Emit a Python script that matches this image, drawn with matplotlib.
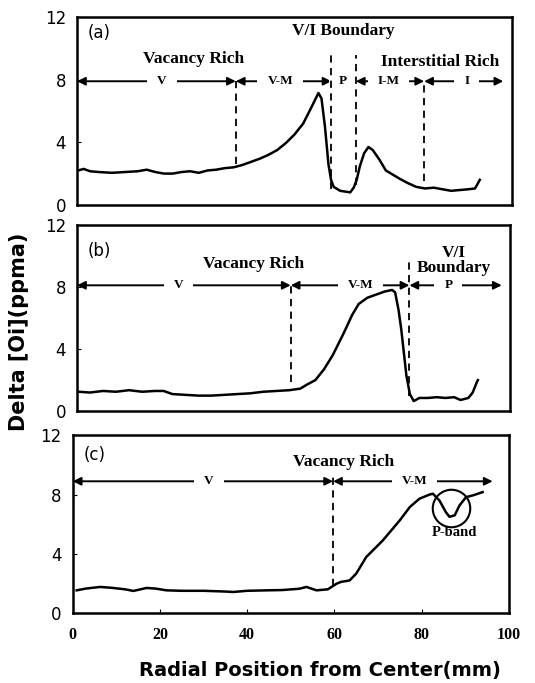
import matplotlib.pyplot as plt

# panel (a)
xa = [0.3, 1.5, 3, 5, 8, 11, 14, 16, 18, 20, 22, 24, 26, 28, 30, 32, 34, 36, 38, 40,
      42, 44, 46, 48, 50, 52, 54, 55.5, 56.2, 57, 57.8, 58.4, 59, 60.5, 62.8, 63.6,
      64.3, 65, 66, 67, 68, 69.5, 71, 72.5, 74.3, 76, 78, 80, 82, 84, 86, 88, 90,
      91.5, 92.6]
ya = [2.2, 2.3, 2.15, 2.1, 2.05, 2.1, 2.15, 2.25, 2.1, 2.0, 2.0, 2.1, 2.15, 2.05, 2.2,
      2.25, 2.35, 2.4, 2.55, 2.75, 2.95, 3.2, 3.5, 3.95, 4.5, 5.2, 6.3, 7.15, 6.8, 5.0,
      2.6, 1.6, 1.15, 0.9, 0.8, 1.1, 1.6, 2.45, 3.3, 3.7, 3.5, 2.9, 2.2, 1.95, 1.65,
      1.4, 1.15, 1.05, 1.1, 1.0, 0.9, 0.95, 1.0, 1.05, 1.6]

# panel (b)
xb = [0.3, 3, 6, 9, 12, 15, 18, 20, 22, 25, 28, 31, 34, 37, 40, 43, 46, 49, 51.5, 53,
      55, 57, 59, 61.5, 63.5, 65, 67, 69, 71, 72.7, 73.4, 74.2, 74.8, 75.4, 76, 76.8,
      77.7, 79, 81, 83, 85, 87, 88.5, 90.3, 91.3, 92.3, 92.5]
yb = [1.25, 1.2, 1.3, 1.25, 1.35, 1.25, 1.3, 1.3, 1.1, 1.05, 1.0, 1.0, 1.05, 1.1, 1.15,
      1.25, 1.3, 1.35, 1.45, 1.7, 2.0, 2.7, 3.6, 5.0, 6.2, 6.9, 7.3, 7.5, 7.7, 7.8, 7.65,
      6.5, 5.3, 3.8, 2.3, 1.1, 0.65, 0.85, 0.85, 0.9, 0.85, 0.9, 0.72, 0.85, 1.2, 1.9, 2.0]

# panel (c)
xc = [0.9, 3, 6.3, 9, 12, 13.9, 16.9, 19, 21.5, 25, 30, 35, 36.8, 40, 44.4, 48, 52,
      53.6, 55.9, 58.5, 60.5, 61.5, 63.5, 65, 67.3, 71.1, 75, 77.3, 79.5, 81.8, 82.6,
      84.1, 85.6, 86.4, 87.6, 88.7, 90.2, 91.8, 93.3, 94]
yc = [1.53, 1.65, 1.76, 1.7, 1.6, 1.49, 1.69, 1.65, 1.53, 1.5, 1.5, 1.45, 1.42, 1.5,
      1.53, 1.55, 1.64, 1.76, 1.53, 1.6, 1.98, 2.1, 2.2, 2.66, 3.78, 4.9, 6.26, 7.16,
      7.72, 8.0, 8.06, 7.6, 6.8, 6.5, 6.6, 7.27, 7.83, 7.95, 8.1, 8.17]

yticks = [0, 4, 8, 12]
xticks = [0, 20, 40, 60, 80, 100]

serif = 'Liberation Serif'
sans = 'DejaVu Sans'

fig = plt.figure(figsize=(5.35, 6.83), dpi=100)
ax_a = fig.add_axes([0.144, 0.700, 0.813, 0.275])
ax_b = fig.add_axes([0.144, 0.398, 0.810, 0.273])
ax_c = fig.add_axes([0.136, 0.1025, 0.815, 0.260])

for ax, x, y in [(ax_a, xa, ya), (ax_b, xb, yb), (ax_c, xc, yc)]:
    ax.plot(x, y, color='black', lw=1.8, zorder=2)
    ax.set_xlim(0, 100)
    ax.set_ylim(0, 12)
    ax.set_yticks(yticks)
    ax.tick_params(axis='y', direction='in', length=3, labelsize=12, pad=8)
    ax.tick_params(axis='x', direction='in', length=3, pad=10)
    for lab in ax.get_yticklabels():
        lab.set_family(sans)
    for s in ax.spines.values():
        s.set_linewidth(1.8)

ax_a.set_xticks([])
ax_b.set_xticks([])
ax_c.set_xticks(xticks)
ax_c.set_xticklabels([str(t) for t in xticks], family=serif, fontweight='bold', fontsize=11.5)


def span(ax, x0, x1, y, label, xt=None):
    ax.annotate('', xy=(x0, y), xytext=(x1, y), zorder=1,
                arrowprops=dict(arrowstyle='<|-|>', color='black', lw=1.4,
                                mutation_scale=12, shrinkA=0, shrinkB=0))
    if xt is None:
        xt = (x0 + x1) / 2
    ax.text(xt, y, label, family=serif, fontweight='bold', fontsize=9.5,
            ha='center', va='center', zorder=1.5,
            bbox=dict(facecolor='white', edgecolor='none',
                      boxstyle='square,pad=0.75'))


def vdash(ax, x, y0, y1):
    ax.plot([x, x], [y0, y1], color='black', lw=1.3, ls=(0, (4, 3)), zorder=2)


def label(ax, x, y, s, size=12.5):
    ax.text(x, y, s, family=serif, fontweight='bold', fontsize=size,
            ha='center', va='center', linespacing=0.85, zorder=3)


# (a)
ax_a.text(2.5, 11.0, '(a)', family=sans, fontsize=12, va='center')
label(ax_a, 26.7, 9.3, 'Vacancy Rich')
label(ax_a, 61.2, 11.1, 'V/I Boundary')
label(ax_a, 83.4, 9.1, 'Interstitial Rich')
for xv, y0, y1 in [(36.5, 2.6, 8.0), (58.5, 1.0, 9.6), (64.1, 1.3, 9.6), (79.8, 1.5, 8.0)]:
    vdash(ax_a, xv, y0, y1)
span(ax_a, 0, 36.5, 7.9, 'V', 19.5)
span(ax_a, 36.5, 58.5, 7.9, 'V-M', 46.7)
span(ax_a, 58.5, 64.1, 7.9, 'P', 61.2)
span(ax_a, 64.1, 79.8, 7.9, 'I-M', 71.6)
span(ax_a, 79.8, 98, 7.9, 'I', 89.6)

# (b)
ax_b.text(2.5, 10.3, '(b)', family=sans, fontsize=12, va='center')
label(ax_b, 40.7, 9.5, 'Vacancy Rich')
label(ax_b, 86.9, 9.7, 'V/I\nBoundary')
vdash(ax_b, 49.3, 1.9, 8.1)
vdash(ax_b, 76.7, 1.0, 9.7)
span(ax_b, 0, 49.3, 8.1, 'V', 23.4)
span(ax_b, 49.3, 76.7, 8.1, 'V-M', 65.4)
span(ax_b, 76.7, 98, 8.1, 'P', 85.7)

# (c)
ax_c.text(2.5, 10.65, '(c)', family=sans, fontsize=12, va='center')
label(ax_c, 62, 10.2, 'Vacancy Rich')
vdash(ax_c, 59.7, 1.8, 9.2)
span(ax_c, 0, 59.7, 8.9, 'V', 31.2)
span(ax_c, 59.7, 96.3, 8.9, 'V-M', 78.4)
ax_c.plot([86.8], [7.1], marker='o', ms=27, mfc='none', mec='black', mew=1.5, zorder=3)
label(ax_c, 87.6, 5.45, 'P-band', size=10.5)

fig.text(0.598, 0.019, 'Radial Position from Center(mm)', family=sans,
         fontweight='bold', fontsize=14, ha='center', va='center')
fig.text(0.036, 0.514, 'Delta [Oi](ppma)', family=sans, fontweight='bold',
         fontsize=15, rotation=90, ha='center', va='center')

plt.savefig('out.png', dpi=100)
